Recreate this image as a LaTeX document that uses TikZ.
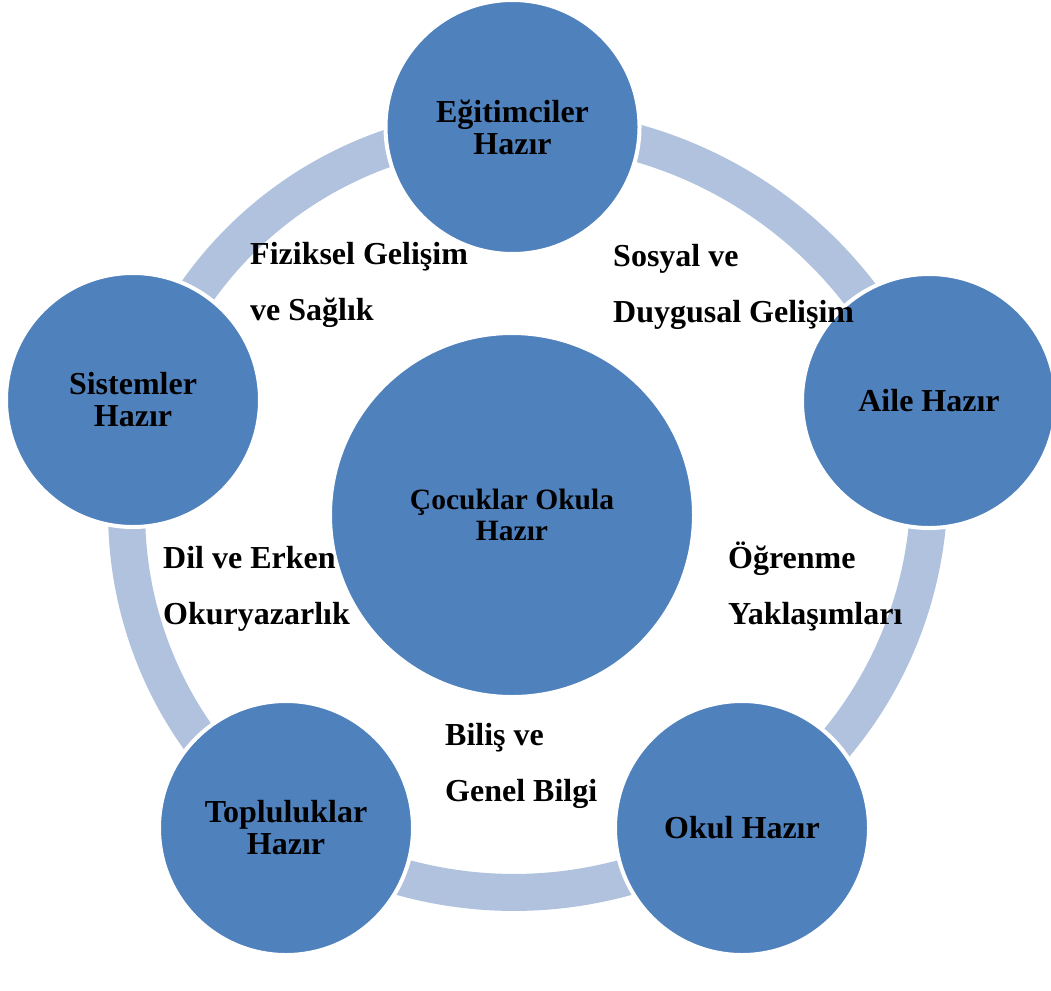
\documentclass[tikz,border=0pt]{standalone}
\usepackage{fontspec}
\setmainfont{Liberation Serif}
\usetikzlibrary{backgrounds}
\definecolor{nodeblue}{HTML}{4F81BD}
\definecolor{ringblue}{HTML}{B0C2DE}
\begin{document}
\begin{tikzpicture}[x=1pt,y=-1pt,
  hub/.style={circle, fill=nodeblue, draw=white, line width=4pt, inner sep=0pt,
    minimum size=254pt, align=center, font=\fontsize{32}{32}\selectfont\bfseries},
  bighub/.style={hub, minimum size=364pt, font=\fontsize{29.5}{31}\selectfont\bfseries},
  ring/.style={draw=ringblue, line width=37pt},
  lbl/.style={anchor=north west, inner sep=0pt, align=left,
    font=\fontsize{32}{56}\selectfont\bfseries}]
\useasboundingbox (0,0) rectangle (1051,990);

\node[bighub] (center) at (512,515) {Çocuklar Okula\\Hazır};
\node[hub] (top) at (512.5,127) {Eğitimciler\\Hazır};
\node[hub] (right) at (929,401) {Aile Hazır};
\node[hub] (bright) at (742,828) {Okul Hazır};
\node[hub] (bleft) at (286,828) {Topluluklar\\Hazır};
\node[hub] (left) at (133,400) {Sistemler\\Hazır};

\coordinate (rT) at (top.center);
\coordinate (rR) at ([xshift=-9pt]right.center);
\coordinate (rBR) at ([yshift=2pt]bright.center);
\coordinate (rBL) at ([yshift=2pt]bleft.center);
\coordinate (rL) at ([xshift=12pt,yshift=4pt]left.center);

\begin{scope}[on background layer]
\draw[ring] (rT) to[bend left=35, looseness=.94] (rR);
\draw[ring] (rR) to[bend left=35, looseness=.94] (rBR);
\draw[ring] (rBR) to[bend left=32, looseness=.94] (rBL);
\draw[ring] (rBL) to[bend left=36, looseness=.94] (rL);
\draw[ring] (rL) to[bend left=36, looseness=.94] (rT);
\end{scope}

\node[lbl] (l1) at (250,224.8) {\strut Fiziksel Gelişim\\ve Sağlık};
\node[lbl] (l2) at (613,226.8) {\strut Sosyal ve\\Duygusal Gelişim};
\node[lbl] (l3) at (163,528.8) {\strut Dil ve Erken\\Okuryazarlık};
\node[lbl] (l4) at (728,528.8) {\strut Öğrenme\\Yaklaşımları};
\node[lbl] (l5) at (445,705.8) {\strut Biliş ve\\Genel Bilgi};
\end{tikzpicture}
\end{document}
